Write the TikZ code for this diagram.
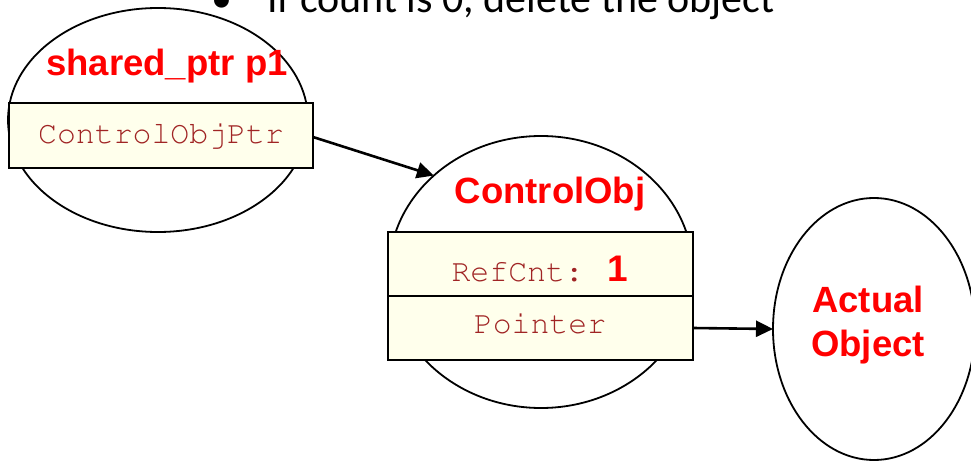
\documentclass[tikz,border=0pt]{standalone}
\usepackage[T1]{fontenc}
\usepackage{fontspec}
\usetikzlibrary{shapes.geometric,arrows.meta}
\newfontfamily\slidefont{Carlito}
\newfontfamily\headfont{Liberation Sans}
\newcommand\codefont{\fontencoding{T1}\fontfamily{pcr}\selectfont}
\definecolor{fieldfill}{RGB}{255,255,236}
\definecolor{codered}{RGB}{160,36,36}
\tikzset{
	bubble/.style={ellipse, draw=black, line width=1.8pt, inner sep=0pt, outer sep=0pt},
	field/.style={rectangle, draw=black, line width=2.4pt, fill=fieldfill, inner sep=0pt, outer sep=0pt, minimum width=305pt, minimum height=64pt, text=codered, font=\codefont\fontsize{31.5pt}{36pt}\selectfont},
	title/.style={anchor=base, text=red, font=\headfont\bfseries\fontsize{36.5pt}{44pt}\selectfont, inner sep=0pt},
	link/.style={line width=2.6pt, -{Triangle[length=17pt,width=16pt]}}
}

\begin{document}
\begin{tikzpicture}[x=1pt,y=-1pt]
		\useasboundingbox (0,0) rectangle (971,462);
		
		% bullet line cut at the top
		\node[anchor=base, inner sep=0pt, font=\slidefont\fontsize{42pt}{50pt}\selectfont] (dot) at (222,13) {•};
		\node[anchor=base west, inner sep=0pt, font=\slidefont\fontsize{42pt}{50pt}\selectfont] (note) at (267,13) {If count is 0, delete the object};
		
		% shared_ptr
		\node[bubble, minimum width=300pt, minimum height=224pt] (sp) at (158,120) {};
		\node[title] (sptitle) at (167,76) {shared\_ptr p1};
		\node[field, minimum width=304pt, minimum height=65pt] (spbox) at (161,135.5) {ControlObjPtr};
		
		% control object
		\node[bubble, minimum width=304pt, minimum height=272pt] (co) at (541,272) {};
		\node[title] (cotitle) at (550,204) {ControlObj};
		\node[field] (cntbox) at (540.5,264) {};
		\node[field] (ptrbox) at (540.5,328) {};
		\node[anchor=base, inner sep=0pt, text=codered, font=\codefont\fontsize{31.5pt}{36pt}\selectfont] (cnt) at (540,281) {RefCnt:\hspace{24pt}{\headfont\bfseries\fontsize{37pt}{40pt}\selectfont\color{red}1}};
		\node[anchor=base, inner sep=0pt, text=codered, font=\codefont\fontsize{31.5pt}{36pt}\selectfont] (ptr) at (540,333) {Pointer};
		
		% actual object
		\node[bubble, minimum width=202pt, minimum height=262pt] (ao) at (874,329) {};
		\node[title] (aotitle) at (868,312) {Actual};
		\node[title] (aotitle2) at (868,356) {Object};
		
		\draw[link] (spbox.east |- 0,137) -- (co.138);
		\draw[link] (ptrbox.east) -- (ao.west);
		
	\end{tikzpicture}
\end{document}
